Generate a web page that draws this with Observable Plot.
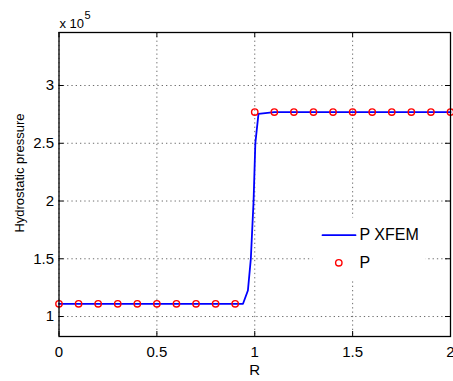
<!DOCTYPE html>
<html>
<head>
<meta charset="utf-8">
<script src="https://cdn.jsdelivr.net/npm/d3@7"></script>
<script src="https://cdn.jsdelivr.net/npm/@observablehq/plot@0.6"></script>
<style>
  html, body { margin: 0; padding: 0; background: #fff; }
  svg { display: block; }
</style>
</head>
<body>
<div id="chart"></div>
<script>
// Data (pressure in units of 1e5)
const rXfem = [0, 0.94, 0.965, 0.98, 0.994, 1.003, 1.019, 1.1, 2];
const pXfem = [1.11, 1.11, 1.225, 1.5, 2.0, 2.5, 2.755, 2.77, 2.77];
const rP = [0, 0.1, 0.2, 0.3, 0.4, 0.5, 0.6, 0.7, 0.8, 0.9, 1.0, 1.1, 1.2, 1.3, 1.4, 1.5, 1.6, 1.7, 1.8, 1.9, 2.0];
const pP = [1.11, 1.11, 1.11, 1.11, 1.11, 1.11, 1.11, 1.11, 1.11, 1.11, 2.77, 2.77, 2.77, 2.77, 2.77, 2.77, 2.77, 2.77, 2.77, 2.77, 2.77];
const xTicks = [0, 0.5, 1, 1.5, 2];
const yTicks = [1, 1.5, 2, 2.5, 3];
const seriesNames = ["P XFEM", "P"];
const xLabel = "R";
const yLabel = "Hydrostatic pressure";
const exponentBase = "x 10";
const exponent = "5";

const xfem = rXfem.map((r, i) => ({r, p: pXfem[i]}));
const exact = rP.map((r, i) => ({r, p: pP[i]}));

const W = 453, H = 381;
const mL = 58.5, mR = 3, mT = 32, mB = 45;
const fw = W - mL - mR, fh = H - mT - mB;
const font = "'Liberation Sans', Arial, Helvetica, sans-serif";
const lineShape = {draw(ctx, l) { ctx.moveTo(0, 0); ctx.lineTo(0, -l); }};

const chart = Plot.plot({
  width: W, height: H,
  marginLeft: mL, marginRight: mR, marginTop: mT, marginBottom: mB,
  style: {fontFamily: font, fontSize: "15px", color: "#000", background: "#fff"},
  x: {domain: [0, 2], ticks: xTicks, tickFormat: d => String(d)},
  y: {domain: [0.827, 3.459], ticks: yTicks, tickFormat: d => String(d)},
  marks: [
    Plot.gridX(xTicks, {stroke: "#333", strokeOpacity: 0.9, strokeWidth: 0.8, strokeDasharray: "1.3,3"}),
    Plot.gridY(yTicks, {stroke: "#333", strokeOpacity: 0.9, strokeWidth: 0.8, strokeDasharray: "1.3,3"}),
    // inward ticks on all four sides
    Plot.tickX(xTicks, {x: d => d, stroke: "#000", insetTop: fh - 5}),
    Plot.tickX(xTicks, {x: d => d, stroke: "#000", insetBottom: fh - 5}),
    Plot.tickY(yTicks, {y: d => d, stroke: "#000", insetRight: fw - 5}),
    Plot.tickY(yTicks, {y: d => d, stroke: "#000", insetLeft: fw - 5}),
    Plot.axisX(xTicks, {tickSize: 0, tickPadding: 10, fontSize: 15, label: null, tickFormat: d => String(d)}),
    Plot.axisY(yTicks, {tickSize: 0, tickPadding: 5, fontSize: 15, label: null, tickFormat: d => String(d)}),
    // legend background
    Plot.frame({fill: "#fff", stroke: null, insetLeft: 253.5, insetRight: 25, insetTop: 185, insetBottom: 57}),
    Plot.line(xfem, {x: "r", y: "p", stroke: "#0000ff", strokeWidth: 1.8}),
    Plot.dot(exact, {x: "r", y: "p", r: 3.2, stroke: "#ff0000", strokeWidth: 1.4, fill: "none"}),
    Plot.frame({stroke: "#000", strokeWidth: 1.3}),
    // legend
    Plot.vector([seriesNames[0]], {frameAnchor: "top-left", dx: 322 - mL, dy: 234.7 - mT, rotate: 90, length: 33, anchor: "start", shape: lineShape, stroke: "#0000ff", strokeWidth: 1.8}),
    Plot.text([seriesNames[0]], {frameAnchor: "top-left", dx: 359 - mL, dy: 234.7 - mT, text: d => d, textAnchor: "start", lineAnchor: "middle", fontSize: 16, fill: "#000"}),
    Plot.dot([seriesNames[1]], {frameAnchor: "top-left", dx: 338.3 - mL, dy: 262.3 - mT, r: 3.2, stroke: "#ff0000", strokeWidth: 1.4, fill: "none"}),
    Plot.text([seriesNames[1]], {frameAnchor: "top-left", dx: 359 - mL, dy: 262.3 - mT, text: d => d, textAnchor: "start", lineAnchor: "middle", fontSize: 16, fill: "#000"}),
    // axis labels
    Plot.text([xLabel], {frameAnchor: "bottom", dy: 34, text: d => d, textAnchor: "middle", lineAnchor: "middle", fontSize: 15, fill: "#000"}),
    Plot.text([yLabel], {frameAnchor: "left", dx: -39.5, dy: -11.5, rotate: -90, text: d => d, textAnchor: "middle", lineAnchor: "middle", fontSize: 13, fill: "#000"}),
    // exponent
    Plot.text([exponentBase], {frameAnchor: "top-left", dx: 0.5, dy: -5, text: d => d, textAnchor: "start", lineAnchor: "bottom", fontSize: 13, fill: "#000"}),
    Plot.text([exponent], {frameAnchor: "top-left", dx: 25.5, dy: -14, text: d => d, textAnchor: "start", lineAnchor: "bottom", fontSize: 11, fill: "#000"})
  ]
});
document.getElementById("chart").appendChild(chart);
</script>
</body>
</html>
